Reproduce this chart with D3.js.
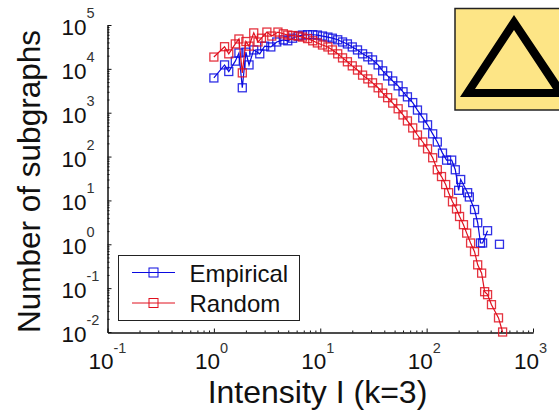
<!DOCTYPE html>
<html>
<head>
<meta charset="utf-8">
<script src="https://cdn.jsdelivr.net/npm/d3@7"></script>
<style>
html,body{margin:0;padding:0;background:#fff;overflow:hidden}
svg{display:block}
text{font-family:"Liberation Sans",Arial,sans-serif;fill:#111}
</style>
</head>
<body>
<svg id="c" width="559" height="410"></svg>
<script>
const empiricalI = [1,1.26,1.38,1.59,1.72,1.85,2.0,2.14,2.37,2.7,3.0,3.43,3.9,4.5,4.95,5.5,6.2,6.8,7.6,8.5,9.4,10.5,11.8,13,14.6,16.2,18,20,22.4,25,28,31,35,38.6,43,48,54,60,66,74,82,92,102,114,126,141,154,172,186,200,209,243,252,282,302,321,336,374,420,484];
const empiricalN = [6200,12300,8700,15000,23000,3700,24000,12300,27000,22000,33000,31600,41000,45700,43600,50000,56000,59000,60000,60000,59000,56000,53000,50000,46000,41000,37000,31600,27000,22000,18800,16000,12300,9000,6900,5300,4100,3000,2300,1700,1150,760,530,330,215,120,83,83,50,17,30,15,12,6.2,3.1,1.07,1.07,2.04,null,1.0];
const randomI = [1,1.26,1.38,1.59,1.72,1.85,2.0,2.14,2.37,2.6,2.8,3.15,3.5,4,4.5,4.95,5.5,6.2,6.8,7.6,8.5,9.4,10.5,11.8,13,14.6,16.2,18,20,22.4,25,28,31,35,38.6,43,48,54,60,66,74,82,92,102,114,126,138,151,161,175,191,204,222,238,259,282,302,329,351,374,407,474,518];
const randomN = [18600,32000,22000,37000,48000,8100,42000,33000,66000,41000,50000,69000,56000,69000,63000,59000,57500,56000,53000,49000,43600,39000,35000,31600,27000,22000,17800,14500,11700,9400,7200,5900,4800,3700,2800,2200,1660,1230,890,650,450,310,215,150,94,50,35,23,15,9.3,6.4,4.3,2.8,1.8,1.07,0.68,0.34,0.22,0.083,0.071,0.042,0.021,0.01];
const xTicks = [0.1,1,10,100,1000];
const xExponents = ["-1","0","1","2","3"];
const yTicks = [0.01,0.1,1,10,100,1000,10000,100000];
const yExponents = ["-2","-1","0","1","2","3","4","5"];
const seriesNames = ["Empirical","Random"];
const seriesColors = ["#0a0ae0","#e0101e"];
const xLabel = "Intensity I (k=3)";
const yLabel = "Number of subgraphs";

const svg = d3.select("#c");
const x = d3.scaleLog().domain([0.1,1000]).range([107.5,533]);
const y = d3.scaleLog().domain([0.01,100000]).range([332,25]);
const minorOf = ticks => ticks.slice(0,-1).flatMap(t => d3.range(2,10).map(m => t*m));

// axes
function drawAxis(gen, tickVals, size, transform){
  const g = svg.append("g").attr("transform",transform)
    .call(gen.tickValues(tickVals).tickSize(size).tickSizeOuter(0).tickFormat(""));
  g.selectAll("line,path").attr("stroke","#111").attr("stroke-width",1);
  g.selectAll("text").remove();
  return g;
}
drawAxis(d3.axisBottom(x), minorOf(xTicks), -2, "translate(0,332.5)");
drawAxis(d3.axisBottom(x), xTicks, -4, "translate(0,332.5)");
drawAxis(d3.axisLeft(y), minorOf(yTicks), -2, "translate(107.5,0)");
drawAxis(d3.axisLeft(y), yTicks, -4, "translate(107.5,0)");

// tick labels
xTicks.forEach((t,i)=>{
  const px = x(t);
  svg.append("text").attr("x",px-19).attr("y",369).attr("font-size",22.5).text("10");
  svg.append("text").attr("x",px+6).attr("y",353).attr("font-size",14.5).style("fill","#333").text(xExponents[i]);
});
yTicks.forEach((t,i)=>{
  const py = y(t);
  svg.append("text").attr("x",61.5).attr("y",py+10).attr("font-size",22.5).text("10");
  svg.append("text").attr("x",86.5).attr("y",py-7).attr("font-size",14.5).style("fill","#333").text(yExponents[i]);
});

// axis titles
svg.append("text").attr("x",317.5).attr("y",403).attr("text-anchor","middle").attr("font-size",32).text(xLabel);
svg.append("text").attr("transform","translate(40,181.5) rotate(-90)").attr("text-anchor","middle").attr("font-size",31.5).text(yLabel);

// series
const s = 8;
function drawSeries(I,N,color){
  const pts = I.map((v,i)=>[v,N[i]]);
  const line = d3.line().defined(d=>d[1]!==null).x(d=>x(d[0])).y(d=>y(d[1]));
  svg.append("path").attr("d",line(pts)).attr("fill","none").attr("stroke",color).attr("stroke-width",1.2);
  svg.append("g").selectAll("rect").data(pts.filter(d=>d[1]!==null)).join("rect")
    .attr("x",d=>x(d[0])-s/2).attr("y",d=>y(d[1])-s/2).attr("width",s).attr("height",s)
    .attr("fill","none").attr("stroke",color).attr("stroke-width",1.3).attr("stroke-opacity",0.85);
}
drawSeries(empiricalI,empiricalN,seriesColors[0]);
drawSeries(randomI,randomN,seriesColors[1]);

// legend
svg.append("rect").attr("x",118.5).attr("y",255.5).attr("width",181).attr("height",65)
  .attr("fill","#fff").attr("stroke","#222").attr("stroke-width",1);
seriesNames.forEach((name,i)=>{
  const ly = i===0 ? 272.5 : 303;
  svg.append("line").attr("x1",132).attr("x2",175).attr("y1",ly).attr("y2",ly).attr("stroke",seriesColors[i]);
  svg.append("rect").attr("x",149).attr("y",ly-4.5).attr("width",9).attr("height",9)
    .attr("fill","none").attr("stroke",seriesColors[i]);
  svg.append("text").attr("x",189.5).attr("y",ly+9).attr("font-size",24).text(name);
});

// inset triangle
const outer = [[514,15],[569,97],[460,97]];
const inner = [[514,30],[553,89],[475,89]];
const inset = svg.append("g");
inset.append("rect").attr("x",455).attr("y",8.5).attr("width",110).attr("height",101.5)
  .attr("fill","#fde586").attr("stroke","#222").attr("stroke-width",1.5);
const poly = d3.line().curve(d3.curveLinearClosed);
inset.append("path").attr("d",poly(outer)+poly(inner)).attr("fill","#000").attr("fill-rule","evenodd");
</script>
</body>
</html>
